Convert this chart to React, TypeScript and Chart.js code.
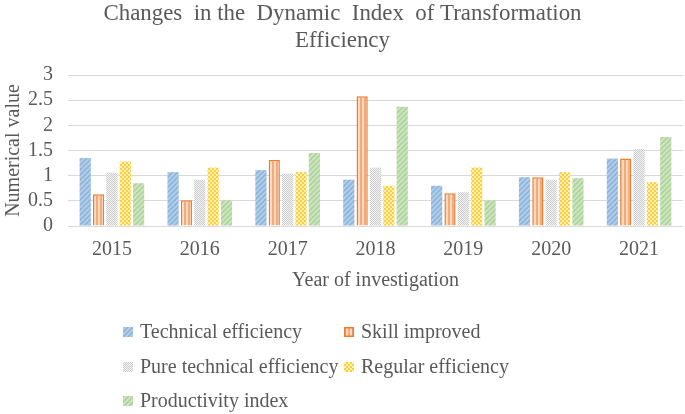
import React, { useEffect, useRef } from "react";
import Chart from "chart.js/auto";

const years = ["2015", "2016", "2017", "2018", "2019", "2020", "2021"];
const technicalEfficiency = [1.35, 1.07, 1.11, 0.92, 0.8, 0.97, 1.34];
const skillImproved = [0.63, 0.51, 1.31, 2.58, 0.65, 0.97, 1.34];
const pureTechnicalEfficiency = [1.06, 0.92, 1.04, 1.16, 0.67, 0.92, 1.53];
const regularEfficiency = [1.28, 1.16, 1.07, 0.8, 1.16, 1.07, 0.87];
const productivityIndex = [0.85, 0.51, 1.45, 2.37, 0.51, 0.95, 1.77];
const yTickLabels = ["0", "0.5", "1", "1.5", "2", "2.5", "3"];
const seriesNames = [
  "Technical efficiency",
  "Skill improved",
  "Pure technical efficiency",
  "Regular efficiency",
  "Productivity index",
];
const titleLines = ["Changes  in the  Dynamic  Index  of Transformation", "Efficiency"];
const yAxisTitle = "Numerical value";
const xAxisTitle = "Year of investigation";

const FONT = "'Liberation Serif', 'Times New Roman', serif";
const TEXT = "#595959";

type Kind = "blue" | "orange" | "gray" | "yellow" | "green";

function makePattern(kind: Kind): CanvasPattern | string {
  const c = document.createElement("canvas");
  const ctx = c.getContext("2d");
  if (!ctx) return "#ccc";
  if (kind === "blue" || kind === "green") {
    const base = kind === "blue" ? "#b3cfea" : "#cfe5c0";
    const line = kind === "blue" ? "#8eb4dc" : "#add49a";
    c.width = 5;
    c.height = 5;
    ctx.fillStyle = base;
    ctx.fillRect(0, 0, 5, 5);
    ctx.strokeStyle = line;
    ctx.lineWidth = 1.6;
    ctx.beginPath();
    ctx.moveTo(-1, 6);
    ctx.lineTo(6, -1);
    ctx.moveTo(-1, 1);
    ctx.lineTo(1, -1);
    ctx.moveTo(4, 6);
    ctx.lineTo(6, 4);
    ctx.stroke();
  } else if (kind === "orange") {
    c.width = 4;
    c.height = 1;
    ctx.fillStyle = "#f4ab7a";
    ctx.fillRect(0, 0, 2, 1);
    ctx.fillStyle = "#fad9c2";
    ctx.fillRect(2, 0, 2, 1);
  } else if (kind === "gray") {
    c.width = 2;
    c.height = 2;
    ctx.fillStyle = "#f4f4f4";
    ctx.fillRect(0, 0, 2, 2);
    ctx.fillStyle = "#cccccc";
    ctx.fillRect(0, 0, 1, 1);
    ctx.fillRect(1, 1, 1, 1);
  } else {
    c.width = 4;
    c.height = 4;
    ctx.fillStyle = "#fff0b8";
    ctx.fillRect(0, 0, 4, 4);
    ctx.fillStyle = "#ffcf3a";
    ctx.fillRect(0, 0, 2, 2);
    ctx.fillRect(2, 2, 2, 2);
  }
  return ctx.createPattern(c, "repeat") || "#ccc";
}

const titlePlugin = {
  id: "customTitle",
  afterDraw(chart: any) {
    const ctx = chart.ctx as CanvasRenderingContext2D;
    ctx.save();
    ctx.fillStyle = TEXT;
    ctx.font = `24px ${FONT}`;
    ctx.textAlign = "center";
    ctx.textBaseline = "middle";
    const sx = 478 / ctx.measureText(titleLines[0]).width;
    titleLines.forEach((t, i) => {
      ctx.save();
      ctx.translate(chart.width / 2, 14 + i * 27);
      ctx.scale(sx, 1);
      ctx.fillText(t, 0, 0);
      ctx.restore();
    });
    ctx.restore();
  },
};

const legendPlugin = {
  id: "gridLegend",
  afterDraw(chart: any) {
    const ctx = chart.ctx as CanvasRenderingContext2D;
    const colX = [123, 344];
    const rowY = [332, 367, 401];
    ctx.save();
    ctx.font = `20px ${FONT}`;
    ctx.textBaseline = "middle";
    ctx.textAlign = "left";
    chart.data.datasets.forEach((ds: any, i: number) => {
      const x = colX[i % 2];
      const y = rowY[Math.floor(i / 2)];
      ctx.fillStyle = ds.backgroundColor;
      ctx.fillRect(x, y - 5, 10, 10);
      if (ds.borderWidth) {
        ctx.strokeStyle = ds.borderColor;
        ctx.lineWidth = 1.5;
        ctx.strokeRect(x + 0.75, y - 4.25, 8.5, 8.5);
      }
      ctx.fillStyle = TEXT;
      ctx.fillText(ds.label, x + 17, y + 1);
    });
    ctx.restore();
  },
};

export default function App() {
  const ref = useRef<HTMLCanvasElement | null>(null);
  useEffect(() => {
    document.body.style.margin = "0";
    if (!ref.current) return;
    const kinds: Kind[] = ["blue", "orange", "gray", "yellow", "green"];
    const values = [
      technicalEfficiency,
      skillImproved,
      pureTechnicalEfficiency,
      regularEfficiency,
      productivityIndex,
    ];
    const datasets = values.map((v, i) => ({
      label: seriesNames[i],
      data: v,
      backgroundColor: makePattern(kinds[i]),
      borderColor: kinds[i] === "orange" ? "#ed7d31" : "rgba(0,0,0,0)",
      borderWidth: kinds[i] === "orange" ? 1.5 : 0,
      categoryPercentage: 0.76,
      barPercentage: 0.84,
    }));
    const chart = new Chart(ref.current, {
      type: "bar",
      data: { labels: years, datasets },
      plugins: [titlePlugin, legendPlugin],
      options: {
        animation: false,
        responsive: false,
        devicePixelRatio: 1,
        layout: { padding: { top: 75, bottom: 118, left: 0, right: 2 } },
        plugins: {
          legend: { display: false },
          title: { display: false },
          tooltip: { enabled: false },
        },
        scales: {
          x: {
            grid: { display: false, drawTicks: false },
            border: { display: false },
            ticks: { color: TEXT, font: { family: FONT, size: 20 }, padding: 12 },
            title: {
              display: true,
              text: xAxisTitle,
              color: TEXT,
              font: { family: FONT, size: 20 },
              padding: { top: 0, bottom: 3 },
            },
            afterFit(scale: any) {
              scale.height = 70;
            },
          },
          y: {
            min: 0,
            max: 3,
            ticks: {
              stepSize: 0.5,
              autoSkip: false,
              color: TEXT,
              font: { family: FONT, size: 20 },
              padding: 15,
              callback: (_v: any, idx: number) => yTickLabels[idx],
            },
            grid: { color: "#d9d9d9", lineWidth: 1, drawTicks: false },
            border: { display: false },
            title: {
              display: true,
              text: yAxisTitle,
              color: TEXT,
              font: { family: FONT, size: 20 },
              padding: { top: 2, bottom: 0 },
            },
            afterFit(scale: any) {
              scale.width = 68;
            },
          },
        },
      },
    });
    return () => chart.destroy();
  }, []);
  return (
    <div style={{ width: 685, height: 414 }}>
      <canvas ref={ref} width={685} height={414} />
    </div>
  );
}
